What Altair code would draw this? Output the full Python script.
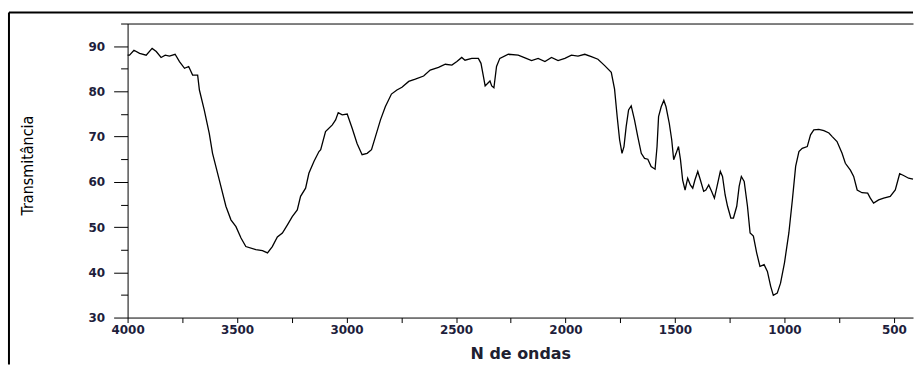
import altair as alt
import pandas as pd

# Infrared spectrum: wavenumber (cm-1) and transmittance (%)
wavenumber = [
    4000, 3991, 3971, 3945, 3915, 3888, 3869, 3847, 3828, 3809, 3783, 3763, 3740,
    3721, 3703, 3680, 3672, 3650, 3627, 3612, 3581, 3551, 3528, 3505, 3482, 3460,
    3414, 3384, 3361, 3339, 3316, 3293, 3270, 3248, 3225, 3210, 3187, 3172, 3149,
    3126, 3118, 3096, 3065, 3050, 3038, 3020, 2997, 2974, 2952, 2929, 2906, 2886,
    2868, 2845, 2823, 2795, 2770, 2747, 2716, 2686, 2648, 2618, 2580, 2549, 2519,
    2496, 2474, 2459, 2428, 2398, 2386, 2375, 2367, 2355, 2345, 2337, 2327, 2315,
    2300, 2261, 2216, 2185, 2155, 2125, 2094, 2064, 2034, 2003, 1973, 1943, 1912,
    1882, 1852, 1821, 1791, 1776, 1764, 1753, 1742, 1733, 1723, 1712, 1700, 1685,
    1670, 1654, 1639, 1624, 1609, 1591, 1582, 1575, 1563, 1551, 1541, 1526, 1515,
    1506, 1495, 1484, 1475, 1465, 1454, 1442, 1430, 1419, 1409, 1396, 1384, 1369,
    1359, 1346, 1333, 1320, 1308, 1293, 1283, 1271, 1260, 1245, 1233, 1218, 1207,
    1197, 1184, 1169, 1157, 1142, 1127, 1112, 1093, 1078, 1063, 1051, 1033, 1018,
    1000, 980, 964, 949, 934, 919, 896, 881, 866, 843, 820, 797, 782, 760, 737,
    722, 699, 684, 668, 646, 620, 608, 593, 570, 547, 517, 494, 474, 456, 433, 413,
]
transmittance = [
    88.0, 88.0, 89.1, 88.4, 88.0, 89.5, 88.8, 87.5, 88.0, 87.8, 88.2, 86.6, 85.1,
    85.5, 83.6, 83.6, 80.3, 75.9, 70.7, 66.3, 60.4, 54.6, 51.6, 50.1, 47.6, 45.7,
    45.0, 44.8, 44.3, 45.7, 47.8, 48.7, 50.5, 52.3, 53.8, 56.8, 58.6, 61.9, 64.5,
    66.7, 67.1, 71.1, 72.6, 73.7, 75.3, 74.8, 75.0, 71.8, 68.5, 66.0, 66.3, 67.1,
    70.0, 73.7, 76.6, 79.4, 80.3, 80.9, 82.2, 82.7, 83.4, 84.7, 85.3, 86.0, 85.8,
    86.6, 87.5, 86.9, 87.3, 87.3, 86.2, 83.3, 81.2, 81.8, 82.3, 81.2, 80.8, 85.5,
    87.3, 88.2, 88.0, 87.4, 86.8, 87.3, 86.6, 87.5, 86.8, 87.3, 88.0, 87.8, 88.2,
    87.7, 87.1, 85.7, 84.2, 80.5, 74.4, 69.3, 66.3, 67.8, 72.2, 75.9, 76.8, 73.7,
    70.0, 66.3, 65.2, 65.0, 63.4, 62.8, 67.8, 74.4, 76.6, 78.0, 76.6, 72.9, 69.3,
    64.9, 66.3, 67.8, 64.9, 60.4, 58.2, 60.8, 59.3, 58.6, 60.4, 62.3, 60.4, 57.9,
    58.2, 59.3, 57.9, 56.4, 59.0, 62.3, 61.2, 57.1, 54.6, 52.0, 52.0, 54.6, 59.0,
    61.2, 60.1, 54.6, 48.7, 48.0, 44.3, 41.3, 41.7, 40.2, 36.9, 34.9, 35.4, 37.6,
    42.1, 48.7, 56.0, 63.4, 66.7, 67.4, 67.8, 70.4, 71.5, 71.6, 71.3, 70.8, 70.0,
    68.9, 66.3, 64.1, 62.6, 61.2, 58.2, 57.6, 57.5, 56.4, 55.3, 56.0, 56.4, 56.8,
    58.2, 61.8, 61.4, 60.8, 60.6,
]

x_ticks = list(range(4000, 499, -250))
y_ticks = list(range(30, 96, 5))

spectrum = pd.DataFrame({"wavenumber": wavenumber, "transmittance": transmittance})
frame = pd.DataFrame({"k": [0]})

x_scale = alt.Scale(domain=[413, 4000], reverse=True, nice=False, zero=False)
y_scale = alt.Scale(domain=[30, 95], nice=False, zero=False)

label_color = "#1e1e3c"

x_axis = alt.Axis(
    orient="bottom",
    values=x_ticks,
    labelExpr="datum.value % 500 === 0 ? datum.label : ''",
    format="d",
    tickSize=5,
    labelPadding=2,
    labelFlush=False,
    labelOverlap=False,
    labelFont="DejaVu Sans",
    labelFontWeight="bold",
    labelFontSize=12,
    labelColor=label_color,
    title="N de ondas",
    titleFont="DejaVu Sans",
    titleFontWeight="bold",
    titleFontSize=16,
    titleColor="#202030",
    titlePadding=10,
    grid=False,
)

y_axis = alt.Axis(
    orient="left",
    values=y_ticks,
    labelExpr="datum.value % 10 === 0 ? datum.label : ''",
    tickSize={"condition": {"test": "datum.value % 10 === 0", "value": 14}, "value": 7},
    labelPadding=9,
    labelOverlap=False,
    labelFont="DejaVu Sans",
    labelFontWeight="bold",
    labelFontSize=12,
    labelColor=label_color,
    title="Transmitância",
    titleFont="Liberation Sans Narrow, DejaVu Sans Condensed, sans-serif",
    titleFontWeight="normal",
    titleFontSize=16,
    titleColor="#000000",
    titleAngle=270,
    titleAlign="center",
    titleBaseline="alphabetic",
    titleX=-95,
    titleY=142,
    grid=False,
)

line = alt.Chart(spectrum).mark_line(color="black", strokeWidth=1.3).encode(
    x=alt.X("wavenumber:Q", scale=x_scale, axis=x_axis),
    y=alt.Y("transmittance:Q", scale=y_scale, axis=y_axis),
)

# Top edge of the plot area as a bare axis line
top_edge = alt.Chart(spectrum).mark_line(opacity=0).encode(
    x=alt.X(
        "wavenumber:Q",
        scale=x_scale,
        axis=alt.Axis(orient="top", labels=False, ticks=False, title=None, grid=False),
    ),
    y=alt.Y("transmittance:Q", scale=y_scale, axis=y_axis),
)

# Outer border of the figure
border_top = alt.Chart(frame).mark_rule(color="black", strokeWidth=2).encode(
    x=alt.value(-119), x2=alt.value(788), y=alt.value(-11)
)
border_left = alt.Chart(frame).mark_rule(color="black", strokeWidth=2).encode(
    x=alt.value(-119), y=alt.value(-11), y2=alt.value(342)
)

chart = (
    alt.layer(line, top_edge, border_top, border_left)
    .properties(
        width=788,
        height=295,
        padding={"left": 8, "top": 11, "right": 0, "bottom": 0},
        background="white",
    )
    .configure_view(stroke=None)
    .configure_axis(domainColor="black", tickColor="black", domainWidth=1, tickWidth=1)
)

chart.save("out.html", embed_options={"renderer": "svg", "actions": False})
